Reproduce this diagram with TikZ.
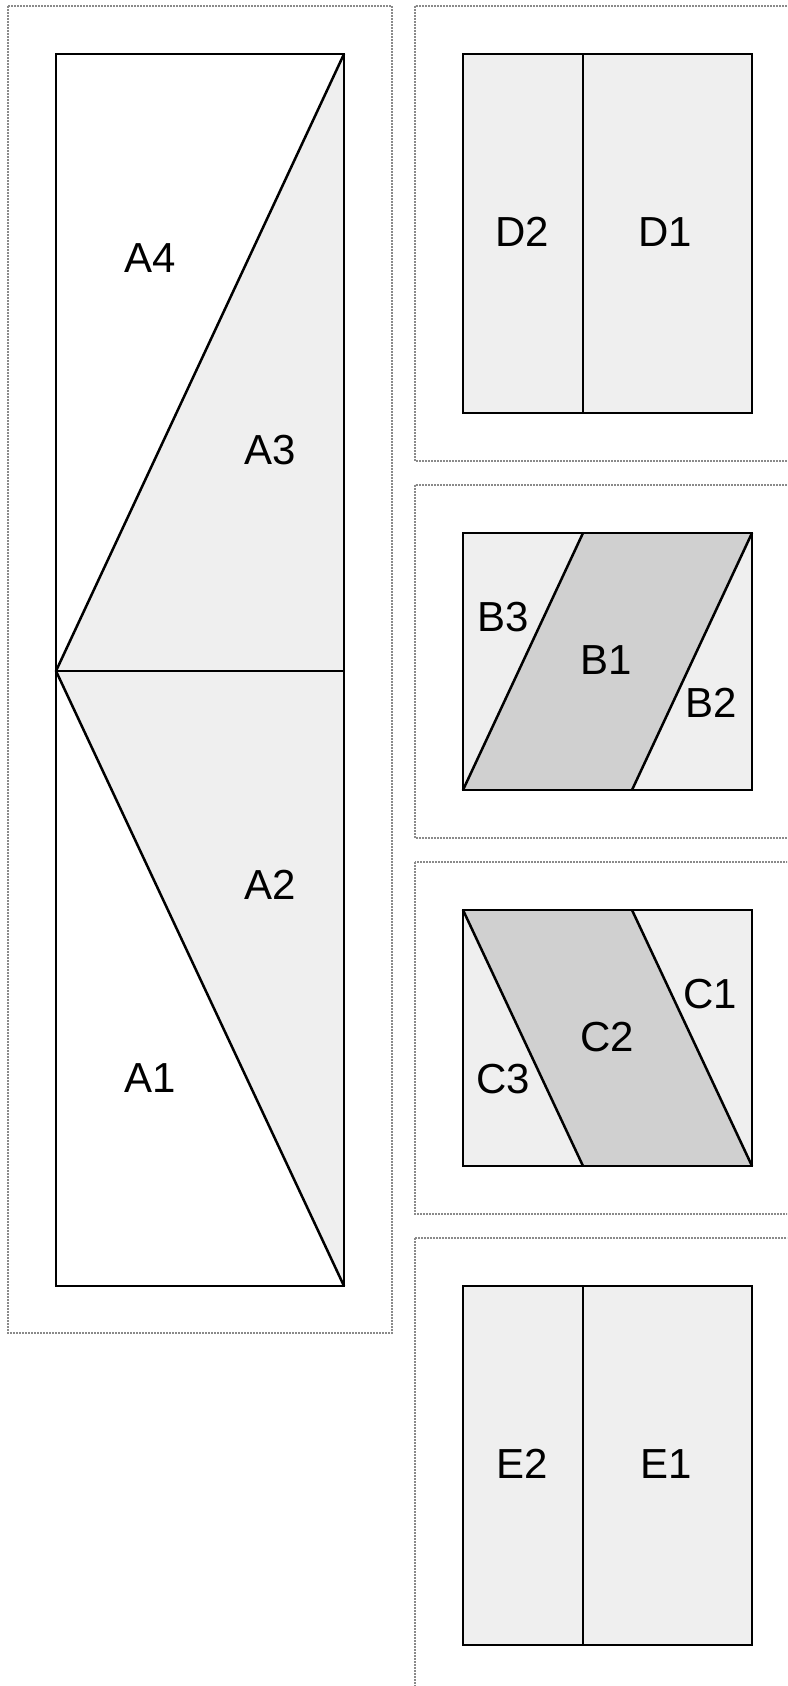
\documentclass[tikz,border=0pt]{standalone}
\usepackage{fontspec}
\setmainfont{Liberation Sans}
\definecolor{lightfill}{HTML}{EFEFEF}
\definecolor{darkfill}{HTML}{D0D0D0}
\definecolor{panelgray}{HTML}{8A8A8A}
\begin{document}
\begin{tikzpicture}[x=1pt,y=-1pt,
  panel/.style={draw=panelgray, line width=1.1pt, dash pattern=on 2pt off 1pt},
  piece/.style={draw=black, line width=2.5pt, line join=miter},
  lbl/.style={inner sep=0pt, font=\fontsize{42}{50}\selectfont}]
\useasboundingbox (0,0) rectangle (787,1686);
\clip (0,0) rectangle (787,1686);
\fill[white] (0,0) rectangle (787,1686);
% panels
\draw[panel] (8,6) rectangle (392,1333);
\draw[panel] (415,6) rectangle (800,461);
\draw[panel] (415,485) rectangle (800,838);
\draw[panel] (415,862) rectangle (800,1214);
\draw[panel] (415,1238) rectangle (800,1700);
% A block
\fill[lightfill] (56,671) -- (344,54) -- (344,1286) -- cycle;
\draw[piece] (56,54) rectangle (344,1286);
\draw[piece] (56,671) -- (344,54);
\draw[piece] (56,671) -- (344,1286);
\draw[piece] (56,671) -- (344,671);
\node[lbl] (a4) at (150,258) {A4};
\node[lbl] (a3) at (270,450) {A3};
\node[lbl] (a2) at (270,885) {A2};
\node[lbl] (a1) at (150,1078) {A1};
% D block
\fill[lightfill] (463,54) rectangle (752,413);
\draw[piece] (463,54) rectangle (752,413);
\draw[piece] (583,54) -- (583,413);
\node[lbl] (d2) at (522,232) {D2};
\node[lbl] (d1) at (665,232) {D1};
% B block
\fill[lightfill] (463,533) rectangle (752,790);
\fill[darkfill] (463,790) -- (583,533) -- (752,533) -- (632,790) -- cycle;
\draw[piece] (463,533) rectangle (752,790);
\draw[piece] (463,790) -- (583,533);
\draw[piece] (632,790) -- (752,533);
\node[lbl] (b3) at (503,617) {B3};
\node[lbl] (b1) at (606,660) {B1};
\node[lbl] (b2) at (711,703) {B2};
% C block
\fill[lightfill] (463,910) rectangle (752,1166);
\fill[darkfill] (463,910) -- (632,910) -- (752,1166) -- (583,1166) -- cycle;
\draw[piece] (463,910) rectangle (752,1166);
\draw[piece] (463,910) -- (583,1166);
\draw[piece] (632,910) -- (752,1166);
\node[lbl] (c1) at (710,994) {C1};
\node[lbl] (c2) at (607,1037) {C2};
\node[lbl] (c3) at (503,1079) {C3};
% E block
\fill[lightfill] (463,1286) rectangle (752,1645);
\draw[piece] (463,1286) rectangle (752,1645);
\draw[piece] (583,1286) -- (583,1645);
\node[lbl] (e2) at (522,1464) {E2};
\node[lbl] (e1) at (666,1464) {E1};
\end{tikzpicture}
\end{document}
